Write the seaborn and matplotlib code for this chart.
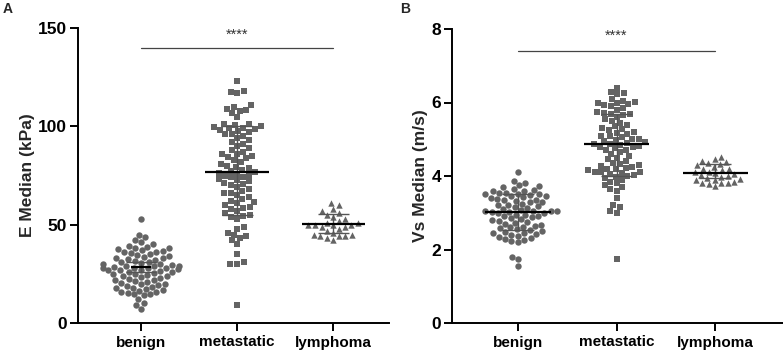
import numpy as np
import pandas as pd
import matplotlib
matplotlib.use("Agg")
import matplotlib.pyplot as plt
import seaborn as sns

sns.set_theme(style="ticks")
plt.rcParams['font.family'] = ['Liberation Sans', 'DejaVu Sans']

categories = ["benign", "metastatic", "lymphoma"]
markers = ["o", "s", "^"]

# Panel A: E Median (kPa)
benign_E = [53, 45, 43.5, 42, 41, 40, 39, 38.5, 38, 37.5, 37, 36.5, 36, 35.5, 35, 34.5,
            34, 33.5, 33, 32.5, 32, 31.5, 31, 30.5, 30, 29.5, 29, 28.8, 28.5, 28.2,
            28, 27.8, 27.5, 27.2, 27, 26.5, 26, 25.5, 25, 24.5, 24, 23.5, 23, 22.5,
            22, 21.5, 21, 20.5, 20, 19.5, 19, 18.5, 18, 17.5, 17, 16.5, 16, 15.5, 15,
            14.5, 14, 12, 10, 9, 7, 38, 36, 33, 30, 28, 26, 24, 22, 20, 18, 16, 29,
            27, 31, 25]
metastatic_E = [123, 118, 117.5, 117, 111, 110, 109, 108.5, 108, 107, 105, 101, 100.5,
                100, 99.5, 99, 98.5, 98, 97.5, 97, 96, 95, 94, 93, 92, 91, 90, 89,
                88, 87, 86, 85, 84.5, 84, 83, 82, 81, 80, 79.5, 79, 78, 77.5, 77, 76.5,
                76, 75.5, 75, 74, 73, 72.5, 72, 71, 70.5, 70, 69, 68, 67, 66, 65, 64,
                63, 62, 61.5, 61, 60, 59, 58.5, 58, 57, 56, 55, 54.5, 54, 53, 49, 48,
                46, 45, 44, 43, 42, 40, 35, 31, 30, 30, 9, 99, 86, 74, 66, 101, 96]
lymphoma_E = [61, 60, 58, 57, 56, 55, 54, 53, 52, 51, 51, 50, 50, 50, 50, 49, 49, 48,
              47, 46, 45, 45, 44, 44, 44, 43, 42]
median_E = [28.5, 77, 50.5]
q1_E = [26, 55, 46]
q3_E = [31, 100, 55.5]

# Panel B: Vs Median (m/s)
benign_V = [4.1, 3.87, 3.8, 3.75, 3.72, 3.7, 3.65, 3.62, 3.6, 3.58, 3.55, 3.52, 3.5,
            3.5, 3.48, 3.45, 3.42, 3.4, 3.38, 3.35, 3.32, 3.3, 3.28, 3.25, 3.22, 3.2,
            3.18, 3.15, 3.12, 3.1, 3.08, 3.06, 3.05, 3.04, 3.03, 3.02, 3.0, 2.98, 2.95,
            2.92, 2.9, 2.88, 2.85, 2.82, 2.8, 2.78, 2.75, 2.72, 2.7, 2.68, 2.65, 2.62,
            2.6, 2.58, 2.55, 2.52, 2.5, 2.48, 2.45, 2.42, 2.4, 2.38, 2.35, 2.32, 2.28,
            2.25, 2.22, 2.2, 1.8, 1.75, 1.55, 3.55, 3.45, 3.35, 3.05, 2.95, 2.45]
metastatic_V = [6.4, 6.28, 6.25, 6.22, 6.1, 6.05, 6.02, 6.0, 5.98, 5.95, 5.92, 5.9,
                5.85, 5.8, 5.75, 5.72, 5.7, 5.68, 5.65, 5.6, 5.55, 5.5, 5.45, 5.4, 5.35,
                5.3, 5.28, 5.25, 5.2, 5.18, 5.15, 5.1, 5.08, 5.05, 5.02, 5.0, 4.98, 4.95,
                4.92, 4.9, 4.88, 4.87, 4.85, 4.82, 4.8, 4.78, 4.75, 4.72, 4.7, 4.65, 4.6,
                4.55, 4.5, 4.45, 4.4, 4.35, 4.32, 4.3, 4.28, 4.25, 4.22, 4.2, 4.18, 4.15,
                4.12, 4.1, 4.1, 4.08, 4.05, 4.02, 4.0, 3.98, 3.95, 3.9, 3.85, 3.8, 3.75,
                3.7, 3.65, 3.6, 3.4, 3.2, 3.15, 3.05, 3.0, 1.75]
lymphoma_V = [4.52, 4.45, 4.42, 4.38, 4.35, 4.32, 4.3, 4.25, 4.2, 4.18, 4.15, 4.12,
              4.1, 4.08, 4.05, 4.02, 4.0, 3.98, 3.95, 3.92, 3.9, 3.88, 3.85, 3.82, 3.8,
              3.8, 3.78, 3.72]
median_V = [3.03, 4.87, 4.08]
q1_V = [2.52, 4.0, 3.95]
q3_V = [3.5, 5.7, 4.32]

point_color = "#646464"

fig = plt.figure(figsize=(7.83, 3.54), dpi=100)
axA = fig.add_axes([78/783, 1-323/354, (389-78)/783, (323-28)/354])
axB = fig.add_axes([452/783, 1-323/354, (783-452)/783, (323-29)/354])


def draw_panel(ax, groups, med, q1, q3, ylabel, ylim, yticks, xlim, sig_y, star_y,
               med_half):
    frames = []
    for cat, vals in zip(categories, groups):
        frames.append(pd.DataFrame({"group": cat, "value": vals}))
    df = pd.concat(frames, ignore_index=True)
    for cat, m in zip(categories, markers):
        sub = df[df["group"] == cat]
        sns.swarmplot(data=sub, x="group", y="value", order=categories, marker=m,
                      color=point_color, size=4.6, linewidth=0, ax=ax, zorder=2)
    for i in range(3):
        ax.hlines(med[i], i - med_half[i], i + med_half[i], color="black", lw=1.6, zorder=4)
        ax.vlines(i, q1[i], q3[i], color="#555555", lw=1.0, zorder=3)
        ax.hlines([q1[i], q3[i]], i - 0.16, i + 0.16, color="#555555", lw=1.0, zorder=3)
    ax.set_xlim(*xlim)
    ax.set_ylim(*ylim)
    ax.set_yticks(yticks)
    ax.set_xlabel("")
    ax.set_ylabel(ylabel, fontsize=12.5, fontweight="bold", labelpad=2)
    ax.plot([0, 2], [sig_y, sig_y], color="#444444", lw=0.9, clip_on=False)
    ax.text(1, star_y, "****", ha="center", va="center", fontsize=10.5, color="#333333")
    for s in ["top", "right"]:
        ax.spines[s].set_visible(False)
    for s in ["left", "bottom"]:
        ax.spines[s].set_linewidth(1.4)
        ax.spines[s].set_color("black")
    ax.tick_params(axis="y", length=6, width=1.4, pad=2, colors="black", labelsize=12.5)
    ax.tick_params(axis="x", length=6, width=1.4, pad=3, colors="black", labelsize=11)
    for lab in ax.get_xticklabels() + ax.get_yticklabels():
        lab.set_fontweight("bold")


draw_panel(axA, [benign_E, metastatic_E, lymphoma_E], median_E, q1_E, q3_E,
           "E Median (kPa)", (0, 150), [0, 50, 100, 150], (-0.656, 2.58), 140, 146.5,
           [0.1, 0.33, 0.33])
draw_panel(axB, [benign_V, metastatic_V, lymphoma_V], median_V, q1_V, q3_V,
           "Vs Median (m/s)", (0, 8), [0, 2, 4, 6, 8], (-0.67, 2.69), 7.4, 7.82,
           [0.33, 0.33, 0.33])

fig.text(3/783, 1-9/354, "A", fontsize=10, fontweight="bold", va="center", ha="left")
fig.text(400/783, 1-9/354, "B", fontsize=10, fontweight="bold", va="center", ha="left")

fig.savefig("out.png", dpi=100)
